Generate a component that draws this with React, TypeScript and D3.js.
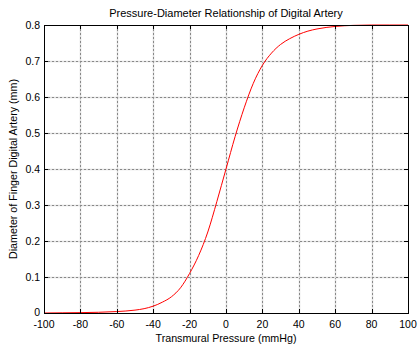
import React from "react";
import * as d3 from "d3";

const pressure = [-100, -90, -80, -70, -60, -50, -45, -40, -35, -30, -25, -20, -15, -10, -5, 0, 5, 10, 15, 20, 25, 30, 35, 40, 45, 50, 60, 70, 80, 90, 100];
const diameter = [0, 0.0005, 0.001, 0.002, 0.004, 0.008, 0.012, 0.019, 0.03, 0.045, 0.07, 0.11, 0.16, 0.225, 0.31, 0.4, 0.49, 0.57, 0.638, 0.688, 0.722, 0.746, 0.762, 0.774, 0.783, 0.789, 0.796, 0.799, 0.8, 0.8, 0.8];
const xTicks = [-100, -80, -60, -40, -20, 0, 20, 40, 60, 80, 100];
const yTicks = [0, 0.1, 0.2, 0.3, 0.4, 0.5, 0.6, 0.7, 0.8];
const title = "Pressure-Diameter Relationship of Digital Artery";
const xLabel = "Transmural Pressure (mmHg)";
const yLabel = "Diameter of Finger Digital Artery (mm)";

export default function App() {
  const W = 418, H = 345;
  const L = 44, R = 408, T = 25, B = 313;
  const x = d3.scaleLinear().domain([-100, 100]).range([L, R]);
  const y = d3.scaleLinear().domain([0, 0.8]).range([B, T]);
  const line = d3.line<number>().x((_, i) => x(pressure[i])).y((d) => y(d)).curve(d3.curveMonotoneX);
  const font = "Liberation Sans, Arial, sans-serif";
  const tk = 4;
  return (
    <svg width={W} height={H} style={{ position: "absolute", left: 0, top: 0, background: "#fff" }}>
      <rect x={0} y={0} width={W} height={H} fill="#fff" />
      {xTicks.slice(1, -1).map((t) => (
        <g key={"gx" + t}>
          <line x1={Math.round(x(t)) + 0.5} x2={Math.round(x(t)) + 0.5} y1={T} y2={B} stroke="#ddd" strokeWidth={1.5} />
          <line x1={Math.round(x(t)) + 0.5} x2={Math.round(x(t)) + 0.5} y1={T} y2={B} stroke="#888" strokeDasharray="2,2" strokeWidth={1} />
        </g>
      ))}
      {yTicks.slice(1, -1).map((t) => (
        <g key={"gy" + t}>
          <line y1={Math.round(y(t)) + 0.5} y2={Math.round(y(t)) + 0.5} x1={L} x2={R} stroke="#ddd" strokeWidth={1.5} />
          <line y1={Math.round(y(t)) + 0.5} y2={Math.round(y(t)) + 0.5} x1={L} x2={R} stroke="#888" strokeDasharray="2,2" strokeWidth={1} />
        </g>
      ))}
      <path d={line(diameter) || ""} fill="none" stroke="#ff0000" strokeWidth={1} />
      <rect x={L + 0.5} y={T + 0.5} width={R - L} height={B - T} fill="none" stroke="#000" strokeWidth={1} />
      {xTicks.map((t) => (
        <g key={"tx" + t}>
          <line x1={Math.round(x(t)) + 0.5} x2={Math.round(x(t)) + 0.5} y1={B} y2={B - tk} stroke="#000" />
          <line x1={Math.round(x(t)) + 0.5} x2={Math.round(x(t)) + 0.5} y1={T} y2={T + tk} stroke="#000" />
          <text x={x(t)} y={328} textAnchor="middle" fontFamily={font} fontSize={10.5} fill="#000">{t}</text>
        </g>
      ))}
      {yTicks.map((t) => (
        <g key={"ty" + t}>
          <line y1={Math.round(y(t)) + 0.5} y2={Math.round(y(t)) + 0.5} x1={L} x2={L + tk} stroke="#000" />
          <line y1={Math.round(y(t)) + 0.5} y2={Math.round(y(t)) + 0.5} x1={R} x2={R - tk} stroke="#000" />
          <text x={40} y={y(t) + (t === 0 ? 3 : 4)} textAnchor="end" fontFamily={font} fontSize={10.5} fill="#000">{t === 0 ? "0" : t.toFixed(1)}</text>
        </g>
      ))}
      <text x={(L + R) / 2} y={17} textAnchor="middle" fontFamily={font} fontSize={11} fill="#000">{title}</text>
      <text x={(L + R) / 2} y={342} textAnchor="middle" fontFamily={font} fontSize={10.7} fill="#000">{xLabel}</text>
      <text transform={`translate(17,${(T + B) / 2}) rotate(-90)`} textAnchor="middle" fontFamily={font} fontSize={10.7} fill="#000">{yLabel}</text>
    </svg>
  );
}
